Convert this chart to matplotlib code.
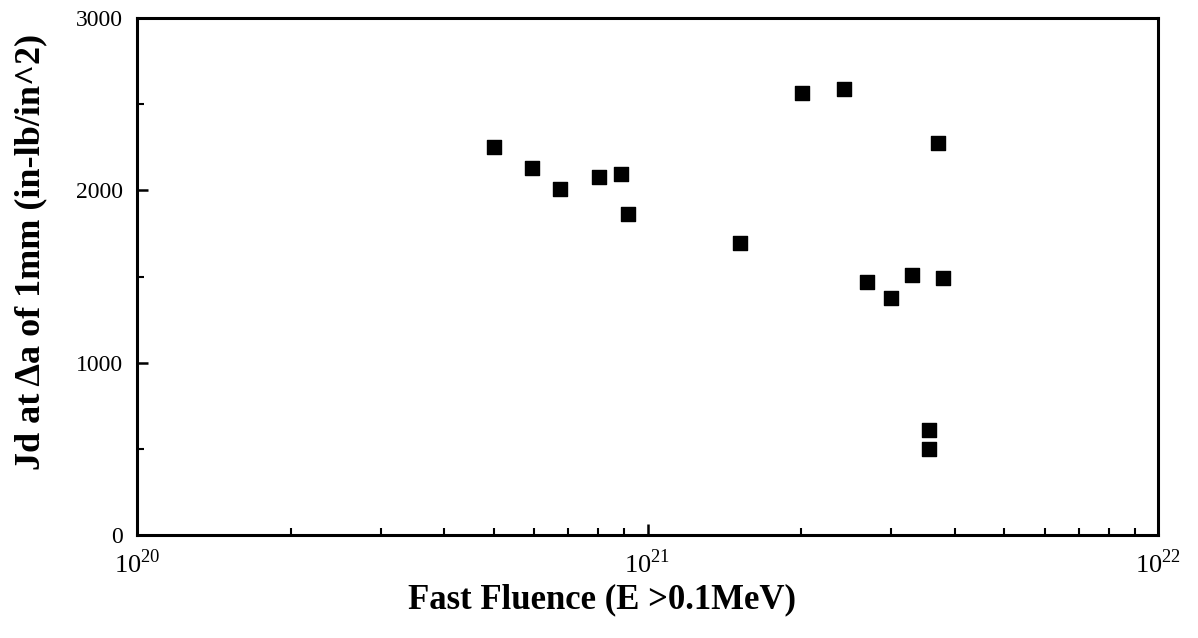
import matplotlib
matplotlib.use("Agg")
import matplotlib.pyplot as plt
from matplotlib.ticker import LogLocator, FixedLocator, NullFormatter

plt.rcParams['font.family'] = ['Liberation Serif', 'DejaVu Serif']
plt.rcParams['mathtext.fontset'] = 'custom'
plt.rcParams['mathtext.rm'] = 'Liberation Serif'

fluence = [5.0e20, 5.94e20, 6.75e20, 8.04e20, 8.87e20, 9.16e20, 1.52e21,
           2.01e21, 2.43e21, 3.71e21, 2.69e21, 3.0e21, 3.30e21, 3.79e21,
           3.56e21, 3.56e21]
jd = [2254, 2132, 2010, 2080, 2097, 1864, 1695,
      2563, 2586, 2272, 1468, 1375, 1509, 1491,
      612, 501]
xticks = [1e20, 1e21, 1e22]
xticklabels = [r'$10^{20}$', r'$10^{21}$', r'$10^{22}$']
yticks = [0, 1000, 2000, 3000]

fig = plt.figure(figsize=(11.98, 6.38), dpi=100)
ax = fig.add_axes([0.1144, 0.1614, 0.8522, 0.8104])
ax.scatter(fluence, jd, marker='s', s=105, color='black', zorder=3)
ax.set_xscale('log')
ax.set_xlim(1e20, 1e22)
ax.set_ylim(0, 3000)
ax.set_xticks(xticks)
ax.set_xticklabels(xticklabels, fontsize=19)
ax.xaxis.set_minor_locator(LogLocator(base=10, subs=range(2, 10)))
ax.xaxis.set_minor_formatter(NullFormatter())
ax.set_yticks(yticks)
ax.yaxis.set_minor_locator(FixedLocator([500, 1500, 2500]))
for s in ax.spines.values():
    s.set_linewidth(2.2)
ax.tick_params(axis='both', which='major', direction='in', length=8, width=1.8)
ax.tick_params(axis='y', which='major', labelsize=17, pad=10)
ax.tick_params(axis='both', which='minor', direction='in', length=5, width=1.5)
ax.tick_params(axis='x', which='major', pad=10)
ax.set_xlabel('Fast Fluence (E >0.1MeV)', fontsize=25, fontweight='bold')
ax.xaxis.set_label_coords(0.455, -0.093)
ax.set_ylabel('Jd at \u0394a of 1mm (in-lb/in^2)', fontsize=26, fontweight='bold')
ax.yaxis.set_label_coords(-0.088, 0.547)
fig.savefig('out.png', dpi=100)
